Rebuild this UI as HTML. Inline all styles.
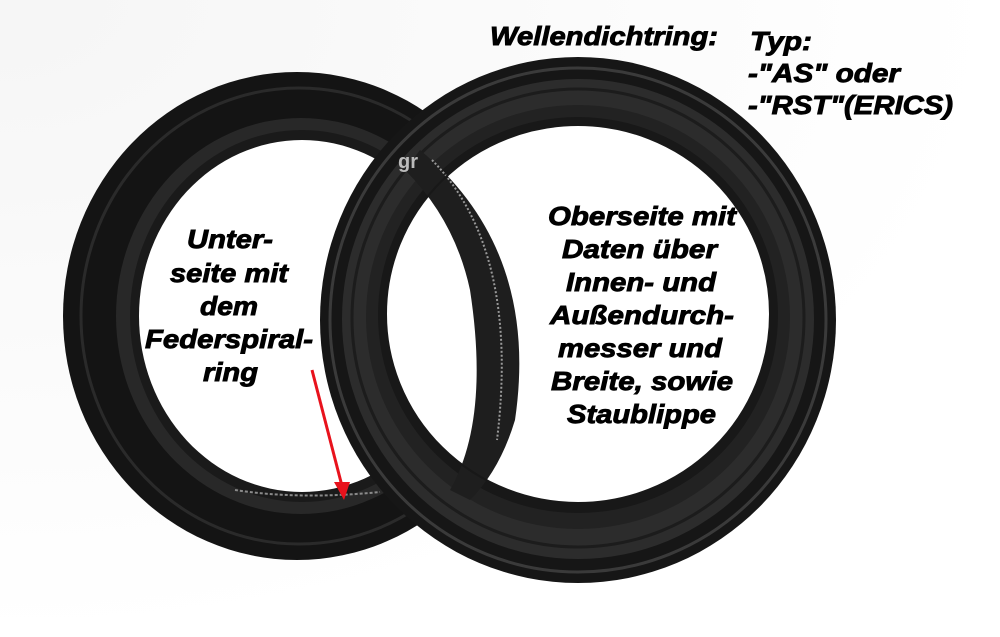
<!DOCTYPE html>
<html><head><meta charset="utf-8"><style>
html,body{margin:0;padding:0;background:#fff;}
svg{display:block;}
text{font-family:"Liberation Sans",sans-serif;font-weight:bold;font-style:italic;fill:#000;stroke:#000;stroke-width:0.9px;}
</style></head><body>
<svg width="1000" height="637" viewBox="0 0 1000 637" xmlns="http://www.w3.org/2000/svg">
<defs>
<radialGradient id="bg" cx="0" cy="0" r="1">
<stop offset="0" stop-color="#ececec"/><stop offset="1" stop-color="#ffffff"/>
</radialGradient>
</defs>
<rect width="1000" height="637" fill="#fff"/>
<rect width="1000" height="637" fill="url(#bg)" opacity="0.5"/>
<!-- left ring -->
<g>
<ellipse cx="297" cy="316" rx="234" ry="244" fill="#141414"/>
<ellipse cx="299" cy="316" rx="218" ry="228" fill="none" stroke="#2a2a2a" stroke-width="3"/>
<ellipse cx="301" cy="316" rx="185" ry="198" fill="#282828"/>
<ellipse cx="302" cy="316" rx="172" ry="186" fill="#1a1a1a"/>
<ellipse cx="302" cy="316" rx="163" ry="176" fill="#fff"/>
<path d="M235 490 Q300 500 380 492" fill="none" stroke="#8a8a8a" stroke-width="2" stroke-dasharray="3 2"/>
</g>
<!-- right ring -->
<g>
<ellipse cx="578" cy="320" rx="258" ry="263" fill="#161616"/>
<ellipse cx="578" cy="320" rx="248" ry="252" fill="none" stroke="#3a3a3a" stroke-width="3"/>
<ellipse cx="578" cy="319" rx="236" ry="240" fill="#2c2c2c"/>
<ellipse cx="578" cy="318" rx="226" ry="229" fill="none" stroke="#1c1c1c" stroke-width="3"/>
<ellipse cx="578" cy="317" rx="212" ry="212" fill="#222"/>
<ellipse cx="578" cy="315" rx="200" ry="198" fill="#181818"/>
<ellipse cx="578" cy="314" rx="192" ry="189" fill="#fff"/>
</g>
<!-- left ring portion visible through right hole -->
<path d="M420 150 Q540 250 515 420 Q500 470 470 500 L450 490 Q490 420 470 290 Q455 220 405 170 Z" fill="#1e1e1e"/>
<path d="M432 160 Q520 250 497 440" fill="none" stroke="#999" stroke-width="2" stroke-dasharray="2 2"/>
<ellipse cx="578" cy="314" rx="192" ry="189" fill="none" stroke="#181818" stroke-width="2"/>
<text x="398" y="168" style="fill:#bbb;stroke:none;font-style:normal;font-size:20px">gr</text>
<!-- arrow -->
<line x1="312" y1="370" x2="342" y2="486" stroke="#e8121c" stroke-width="3"/>
<polygon points="334,482 350,482 344,500" fill="#e8121c"/>
<!-- labels -->
<text x="490" y="45" font-size="26" textLength="228" lengthAdjust="spacingAndGlyphs">Wellendichtring:</text>
<text x="750" y="50" font-size="26" textLength="62" lengthAdjust="spacingAndGlyphs">Typ:</text>
<text x="748" y="82" font-size="26" textLength="152" lengthAdjust="spacingAndGlyphs">-"AS" oder</text>
<text x="748" y="114" font-size="26" textLength="205" lengthAdjust="spacingAndGlyphs">-"RST"(ERICS)</text>
<g font-size="26">
<text x="187" y="248" textLength="86" lengthAdjust="spacingAndGlyphs">Unter-</text>
<text x="170" y="282" textLength="118" lengthAdjust="spacingAndGlyphs">seite mit</text>
<text x="200" y="315" textLength="58" lengthAdjust="spacingAndGlyphs">dem</text>
<text x="145" y="348" textLength="168" lengthAdjust="spacingAndGlyphs">Federspiral-</text>
<text x="203" y="381" textLength="55" lengthAdjust="spacingAndGlyphs">ring</text>
<text x="548" y="225" textLength="188" lengthAdjust="spacingAndGlyphs">Oberseite mit</text>
<text x="562" y="258" textLength="155" lengthAdjust="spacingAndGlyphs">Daten über</text>
<text x="566" y="291" textLength="150" lengthAdjust="spacingAndGlyphs">Innen- und</text>
<text x="550" y="324" textLength="184" lengthAdjust="spacingAndGlyphs">Außendurch-</text>
<text x="558" y="357" textLength="164" lengthAdjust="spacingAndGlyphs">messer und</text>
<text x="551" y="390" textLength="182" lengthAdjust="spacingAndGlyphs">Breite, sowie</text>
<text x="567" y="423" textLength="149" lengthAdjust="spacingAndGlyphs">Staublippe</text>
</g>
</svg>
</body></html>
